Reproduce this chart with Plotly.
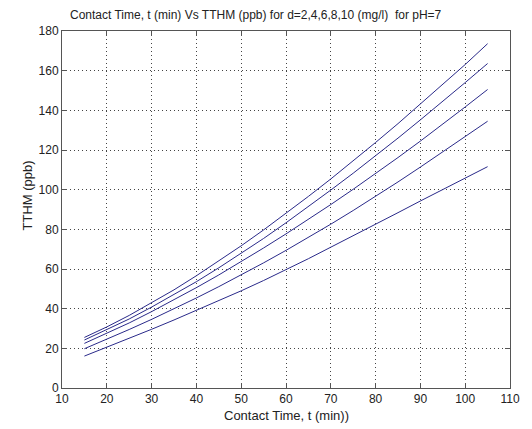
import plotly.graph_objects as go

t = [15, 20, 25, 30, 35, 40, 45, 50, 55, 60, 65, 70, 75, 80, 85, 90, 95, 100, 105]

tthm_d10 = [25.5, 30.8, 36.6, 42.9, 49.5, 56.6, 64.0, 71.7, 79.7, 88.0, 96.6, 105.4, 114.4, 123.8, 133.3, 143.1, 152.9, 163.1, 173.6]
tthm_d8 = [24.2, 29.3, 34.8, 40.8, 47.0, 53.6, 60.6, 67.9, 75.4, 83.3, 91.4, 99.8, 108.3, 117.1, 126.0, 135.2, 144.5, 154.0, 163.6]
tthm_d6 = [22.5, 27.5, 32.8, 38.5, 44.4, 50.6, 57.0, 63.7, 70.6, 77.7, 85.0, 92.5, 100.2, 108.1, 116.2, 124.5, 133.0, 141.7, 150.5]
tthm_d4 = [19.8, 24.5, 29.5, 34.6, 39.9, 45.4, 51.1, 57.0, 63.1, 69.4, 75.9, 82.6, 89.5, 96.6, 103.9, 111.4, 119.0, 126.7, 134.5]
tthm_d2 = [16.1, 20.5, 25.0, 29.6, 34.3, 39.1, 44.0, 49.0, 54.2, 59.5, 65.2, 71.0, 76.7, 82.5, 88.4, 94.3, 100.2, 106.0, 111.6]

series = [tthm_d10, tthm_d8, tthm_d6, tthm_d4, tthm_d2]

x_ticks = [10, 20, 30, 40, 50, 60, 70, 80, 90, 100, 110]
y_ticks = [0, 20, 40, 60, 80, 100, 120, 140, 160, 180]

title_text = "Contact Time, t (min) Vs TTHM (ppb) for d=2,4,6,8,10 (mg/l)  for pH=7"
x_title = "Contact Time, t (min))"
y_title = "TTHM (ppb)"

fig = go.Figure()
for ys in series:
    fig.add_trace(go.Scatter(x=t, y=ys, mode="lines",
                             line=dict(color="#2a2a8a", width=1), showlegend=False))

W, H = 532, 429
L, R, T, B = 62, 17, 31, 41
fam = "Liberation Sans, Arial, sans-serif"
tick_font = dict(family=fam, size=12, color="#222222")
title_font = dict(family=fam, size=12, color="#222222")
label_font = dict(family=fam, size=13, color="#222222")

axis_common = dict(showline=True, linecolor="#555555", linewidth=1, mirror="ticks",
                   ticks="inside", ticklen=5, tickcolor="#555555", tickwidth=1,
                   showgrid=True, gridcolor="#444444", griddash="1px,3px", gridwidth=1,
                   zeroline=False, tickfont=tick_font)

fig.update_layout(
    width=W, height=H,
    margin=dict(l=L, r=R, t=T, b=B, pad=0),
    paper_bgcolor="white", plot_bgcolor="white",
    font=tick_font,
    xaxis=dict(range=[10, 110], tickvals=x_ticks, ticktext=[str(v) for v in x_ticks], **axis_common),
    yaxis=dict(range=[0, 180], tickvals=y_ticks, ticktext=[str(v) for v in y_ticks], **axis_common),
    annotations=[
        dict(text=title_text, xref="paper", yref="paper", x=(258 - L) / (W - L - R), y=1,
             yshift=16, xanchor="center", yanchor="middle", showarrow=False, font=title_font),
        dict(text=x_title, xref="paper", yref="paper", x=0.5, y=0, yshift=-27,
             xanchor="center", yanchor="middle", showarrow=False, font=label_font),
        dict(text=y_title, xref="paper", yref="paper", x=0, xshift=-35, y=0.5, yshift=14,
             xanchor="center", yanchor="middle", textangle=-90, showarrow=False, font=label_font),
    ],
)

fig.write_html("out.html")
